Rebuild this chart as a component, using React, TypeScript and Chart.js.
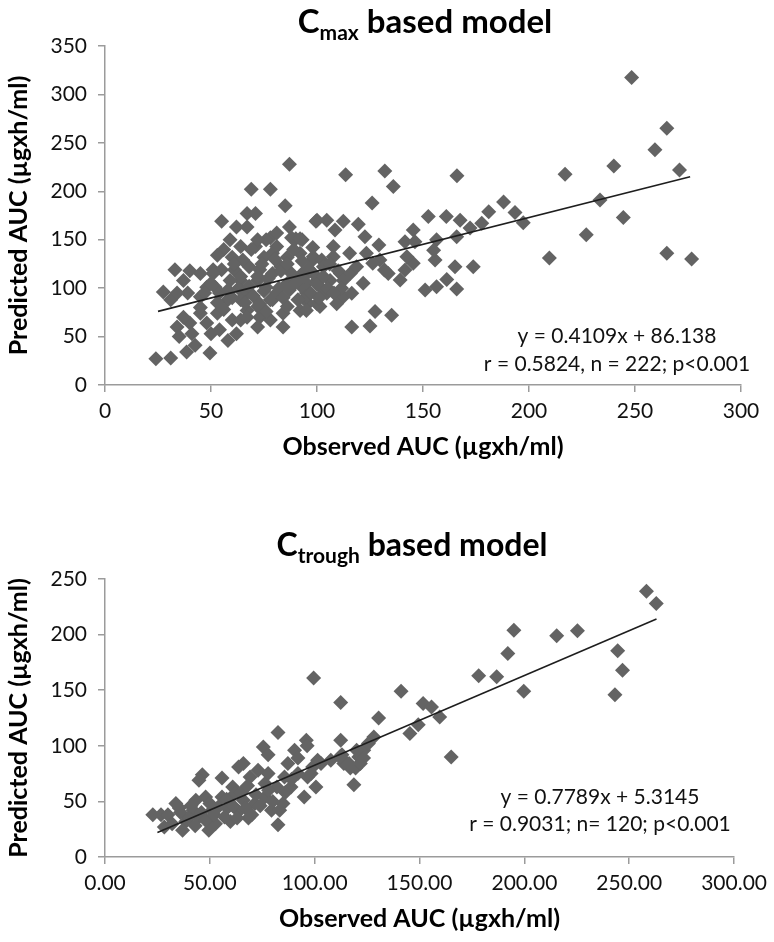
import React, { useEffect, useRef } from 'react';
import { Chart, registerables } from 'chart.js';

Chart.register(...registerables);

// ---------------- DATA ----------------
// Cmax based model: observed AUC (x) and predicted AUC (y)
const cmaxObserved = [
  87, 69, 78, 85, 67, 71, 55, 62, 99.5, 59, 78, 81, 88, 71, 33, 40, 51, 27.5, 39, 34, 84, 49.5, 24, 31, 38.5, 35, 42.5, 84,
  31, 45, 52, 55, 60, 64, 69, 76, 81, 86, 92, 98, 68, 73, 79, 93, 86, 95, 100, 92, 86, 78, 72, 67, 64, 59, 58, 60, 53, 48,
  50, 54, 64, 73, 72, 78, 67, 45, 40, 41, 37, 34, 37, 48, 51, 93, 87, 90, 95, 100, 72, 76, 81, 62, 58, 64, 54, 83, 88, 75,
  79, 65, 61, 72, 67, 45,
  113.5, 132, 136, 166, 126, 100, 104.6, 112.4, 119.5, 108.5, 152.5, 161, 167.5, 181, 188, 193.4, 177.7, 172.2, 145.4, 141.5,
  156.4, 165.9, 122.6, 129.2, 92, 115.4, 123.3, 129.7, 133.6, 145.4, 155.7, 165.1, 173.7, 139.2, 141.5, 121.8, 151, 156.4,
  161.2, 165.9, 112.4, 109.3, 127.4, 135.2, 116.4, 125, 98.2, 102.2, 92.8, 95.9, 107.7, 111,
  98.3, 101.4, 95, 104.6, 106.2, 115.7, 112.4, 103, 107.7, 111.6, 95, 101.4, 116.4, 118.7, 126.3, 131.8, 142.4, 155, 146.2,
  248.4, 265, 259.4, 271, 240, 217, 233.5, 244.5, 227, 209.6, 265, 276.7, 197.3,
  45, 47, 50, 53, 56, 58, 60, 61, 63, 64, 66, 67, 68, 70, 72, 73, 74, 75, 76, 77, 79, 80, 82, 83, 84, 86, 87, 89, 90, 91,
  93, 94, 96, 97, 98, 100, 101, 103, 105, 106, 108, 110, 56, 53,
];
const cmaxPredicted = [
  228, 202, 202, 185, 177, 177, 169, 163, 169, 150, 152, 157, 152, 143, 119, 118, 119, 96, 95, 60, 60, 33, 27, 28, 34, 50, 41, 74,
  88, 91, 101, 119, 132, 143, 140, 150, 143, 132, 136, 129, 122, 119, 115, 115, 105, 95, 84, 77, 81, 88, 81, 95, 108, 108, 88, 67, 74, 64,
  53, 57, 67, 70, 60, 67, 77, 74, 64, 53, 70, 95, 108, 101, 115, 150, 163, 151, 105, 108, 108, 101, 95, 53, 46, 88, 95, 122, 115, 132,
  136, 129, 119, 150, 163, 115,
  217, 221, 205, 216, 188, 170, 170, 169, 166, 160, 174, 174, 170, 179, 189, 178, 167, 162, 160, 148,
  150, 153, 153, 144.5, 151, 136, 136, 129, 115, 125.6, 129, 122, 122, 108.4, 118.7, 105, 98, 101.5,
  109, 99, 91, 84, 76, 72, 60, 61, 132.5, 129, 101.5, 84.3, 143, 115,
  115, 101.5, 91, 94.6, 108, 115, 108, 122, 132.5, 100, 77, 81, 94.6, 122, 125.6, 118.7, 132.5, 139, 148,
  317.6, 265, 243, 222, 226, 217.5, 191, 173, 155, 131, 136, 130, 167.6,
  80, 95, 105, 85, 78, 98, 90, 125, 100, 112, 85, 70, 102, 92, 112, 84, 125, 97, 76, 110, 88, 130, 100, 118, 90, 125, 98, 140, 106, 88,
  128, 112, 120, 95, 142, 104, 90, 112, 100, 125, 95, 118, 140, 134,
];
const cmaxTrendX = [25, 276];
const cmaxTrendY = [76, 215];

// Ctrough based model
const troughObserved = [
  99.5, 82.5, 96, 75.5, 77.8, 90.4, 92, 66, 63.7, 46.4, 55.8, 44.8, 82.5, 95, 22.8, 26.7, 30, 35.4, 112.4, 141.2,
  130.5, 151.7, 155.7, 159.6, 149.4, 145.4, 128.2, 165.1, 178.2, 186.8, 192.1, 195, 96.4, 112.4, 123.4, 121, 107.7, 103, 98.3, 100.6,
  118.7, 258.2, 262.9, 215.4, 225.3, 199.7, 244.5, 246.8, 243.2, 115, 117, 113,
  33.8, 38.5, 44.8, 51.1, 52.7, 59.8, 63.7, 68.4, 71.5, 76.3, 79.4, 76.3, 69.2, 60.9, 55.8, 48, 43.3, 85.6, 88.7, 84.9,
  92, 87.2, 96.6, 66, 37, 49.5, 28.3, 42, 58.3, 62, 73, 82, 77.8, 83.3,
  99, 101.4, 113.9, 119.5, 121.8, 123.3, 120, 125.6, 116.4, 112,
  32, 36, 40, 41, 43, 46, 48, 50, 52, 54, 57, 58, 61, 63, 65, 67, 70, 72, 74, 78, 80, 86, 89, 68,
];
const troughPredicted = [
  161, 112, 105, 99, 92, 96, 89, 84, 81, 74, 71, 69, 29, 54, 38, 38, 38, 44, 139, 149,
  125, 138, 135, 126, 119, 111, 108, 90, 163, 162, 183, 204, 100, 105, 96, 90, 87, 84, 75, 63,
  65, 239, 228, 199, 203.5, 149, 185.5, 168, 146, 85, 80, 92,
  48, 32, 36, 42, 30, 32, 41, 35, 48, 54, 42, 66, 72, 63, 54, 54, 51, 72, 63, 48,
  75, 84, 72, 51, 24, 24, 27, 42, 44, 57, 78, 63, 75, 42,
  81, 87, 84, 80, 84, 89, 96, 102, 84, 90,
  30, 40, 35, 46, 28, 40, 33, 48, 38, 45, 36, 52, 46, 35, 58, 44, 38, 56, 46, 60, 50, 58, 70, 64,
];
const troughTrendX = [25, 263];
const troughTrendY = [22, 214];

const xTickValues = [0, 50, 100, 150, 200, 250, 300];
const cmaxYTicks = [0, 50, 100, 150, 200, 250, 300, 350];
const troughYTicks = [0, 50, 100, 150, 200, 250];

const cmaxTitle = { main: 'C', sub: 'max', rest: ' based model' };
const troughTitle = { main: 'C', sub: 'trough', rest: ' based model' };
const cmaxNotes = ['y = 0.4109x + 86.138', 'r = 0.5824, n = 222; p<0.001'];
const troughNotes = ['y = 0.7789x + 5.3145', 'r = 0.9031; n= 120; p<0.001'];
const xAxisTitle = 'Observed AUC (µgxh/ml)';
const yAxisTitle = 'Predicted AUC (µgxh/ml)';

// ---------------- STYLE ----------------
const FONT = 'Lato';
const AXIS_GRAY = '#9b9b9b';
const MARKER = '#636363';

function zip(xs: number[], ys: number[]) {
  return xs.map((x, i) => ({ x, y: ys[i] }));
}

type TextCfg = {
  title: { main: string; sub: string; rest: string };
  titleX: number;
  titleY: number;
  titleSize: number;
  notes: string[];
  noteX: number;
  noteY: number[];
};

function textPlugin(cfg: TextCfg) {
  return {
    id: 'customText',
    afterDraw(chart: any) {
      const ctx = chart.ctx as CanvasRenderingContext2D;
      ctx.save();
      const big = `bold ${cfg.titleSize}px ${FONT}`;
      const small = `bold ${Math.round(cfg.titleSize * 0.65)}px ${FONT}`;
      ctx.font = big;
      const wC = ctx.measureText(cfg.title.main).width;
      const wR = ctx.measureText(cfg.title.rest).width;
      ctx.font = small;
      const wS = ctx.measureText(cfg.title.sub).width;
      let x = cfg.titleX - (wC + wS + wR) / 2;
      ctx.fillStyle = '#000';
      ctx.textAlign = 'left';
      ctx.textBaseline = 'alphabetic';
      ctx.font = big;
      ctx.fillText(cfg.title.main, x, cfg.titleY);
      x += wC;
      ctx.font = small;
      ctx.fillText(cfg.title.sub, x, cfg.titleY + 7);
      x += wS;
      ctx.font = big;
      ctx.fillText(cfg.title.rest, x, cfg.titleY);

      ctx.font = `21px ${FONT}`;
      ctx.textAlign = 'center';
      ctx.textBaseline = 'middle';
      ctx.fillStyle = '#111';
      cfg.notes.forEach((t, i) => ctx.fillText(t, cfg.noteX, cfg.noteY[i]));
      ctx.restore();
    },
  };
}

function buildConfig(opts: {
  xs: number[];
  ys: number[];
  tx: number[];
  ty: number[];
  yTicks: number[];
  xFmt: (v: number) => string;
  padTop: number;
  text: TextCfg;
}) {
  const yMax = opts.yTicks[opts.yTicks.length - 1];
  return {
    type: 'scatter' as const,
    data: {
      datasets: [
        {
          type: 'line' as const,
          data: zip(opts.tx, opts.ty),
          borderColor: '#1e1e1e',
          borderWidth: 1.6,
          pointRadius: 0,
          fill: false,
          order: 0,
        },
        {
          data: zip(opts.xs, opts.ys),
          pointStyle: 'rectRot' as const,
          pointRadius: 7.5,
          backgroundColor: MARKER,
          borderColor: MARKER,
          borderWidth: 0,
          order: 1,
        },
      ],
    },
    options: {
      responsive: false,
      maintainAspectRatio: false,
      animation: false as const,
      events: [] as any[],
      layout: { padding: { left: 0, right: 33, top: opts.padTop, bottom: 0 } },
      plugins: {
        legend: { display: false },
        tooltip: { enabled: false },
        title: { display: false },
      },
      scales: {
        x: {
          type: 'linear' as const,
          min: 0,
          max: 300,
          afterBuildTicks: (s: any) => {
            s.ticks = xTickValues.map((v) => ({ value: v }));
          },
          afterFit: (s: any) => {
            s.height = 85;
          },
          ticks: {
            color: '#111',
            font: { family: FONT, size: 21 },
            padding: 7,
            maxRotation: 0,
            autoSkip: false,
            callback: (v: any) => opts.xFmt(Number(v)),
          },
          grid: {
            display: true,
            drawOnChartArea: false,
            drawTicks: true,
            tickLength: 7,
            color: AXIS_GRAY,
            lineWidth: 1.5,
          },
          border: { display: true, color: AXIS_GRAY, width: 1.5 },
          title: {
            display: true,
            text: xAxisTitle,
            color: '#000',
            font: { family: FONT, size: 25, weight: 'bold' as const },
            padding: { top: 0, bottom: 8 },
          },
        },
        y: {
          type: 'linear' as const,
          min: 0,
          max: yMax,
          afterBuildTicks: (s: any) => {
            s.ticks = opts.yTicks.map((v) => ({ value: v }));
          },
          afterFit: (s: any) => {
            s.width = 105;
          },
          ticks: {
            color: '#111',
            font: { family: FONT, size: 21 },
            padding: 11,
            autoSkip: false,
          },
          grid: {
            display: true,
            drawOnChartArea: false,
            drawTicks: true,
            tickLength: 7,
            color: AXIS_GRAY,
            lineWidth: 1.5,
          },
          border: { display: true, color: AXIS_GRAY, width: 1.5 },
          title: {
            display: true,
            text: yAxisTitle,
            color: '#000',
            font: { family: FONT, size: 25, weight: 'bold' as const },
            padding: { top: 4, bottom: 0 },
          },
        },
      },
    },
    plugins: [textPlugin(opts.text)],
  };
}

function ChartCanvas(props: { height: number; top: number; config: () => any }) {
  const ref = useRef<HTMLCanvasElement | null>(null);
  useEffect(() => {
    if (!ref.current) return;
    const chart = new Chart(ref.current, props.config());
    return () => chart.destroy();
  }, []);
  return (
    <canvas
      ref={ref}
      width={774}
      height={props.height}
      style={{ position: 'absolute', left: 0, top: props.top, width: 774, height: props.height }}
    />
  );
}

export default function App() {
  return (
    <div style={{ position: 'absolute', left: 0, top: 0, width: 774, height: 942, background: '#fff' }}>
      <ChartCanvas
        top={0}
        height={470}
        config={() =>
          buildConfig({
            xs: cmaxObserved,
            ys: cmaxPredicted,
            tx: cmaxTrendX,
            ty: cmaxTrendY,
            yTicks: cmaxYTicks,
            xFmt: (v) => String(v),
            padTop: 46,
            text: {
              title: cmaxTitle,
              titleX: 425,
              titleY: 33,
              titleSize: 33,
              notes: cmaxNotes,
              noteX: 617,
              noteY: [336, 364],
            },
          })
        }
      />
      <ChartCanvas
        top={470}
        height={472}
        config={() =>
          buildConfig({
            xs: troughObserved,
            ys: troughPredicted,
            tx: troughTrendX,
            ty: troughTrendY,
            yTicks: troughYTicks,
            xFmt: (v) => v.toFixed(2),
            padTop: 109,
            text: {
              title: troughTitle,
              titleX: 412,
              titleY: 86,
              titleSize: 32,
              notes: troughNotes,
              noteX: 600,
              noteY: [327, 354],
            },
          })
        }
      />
    </div>
  );
}
